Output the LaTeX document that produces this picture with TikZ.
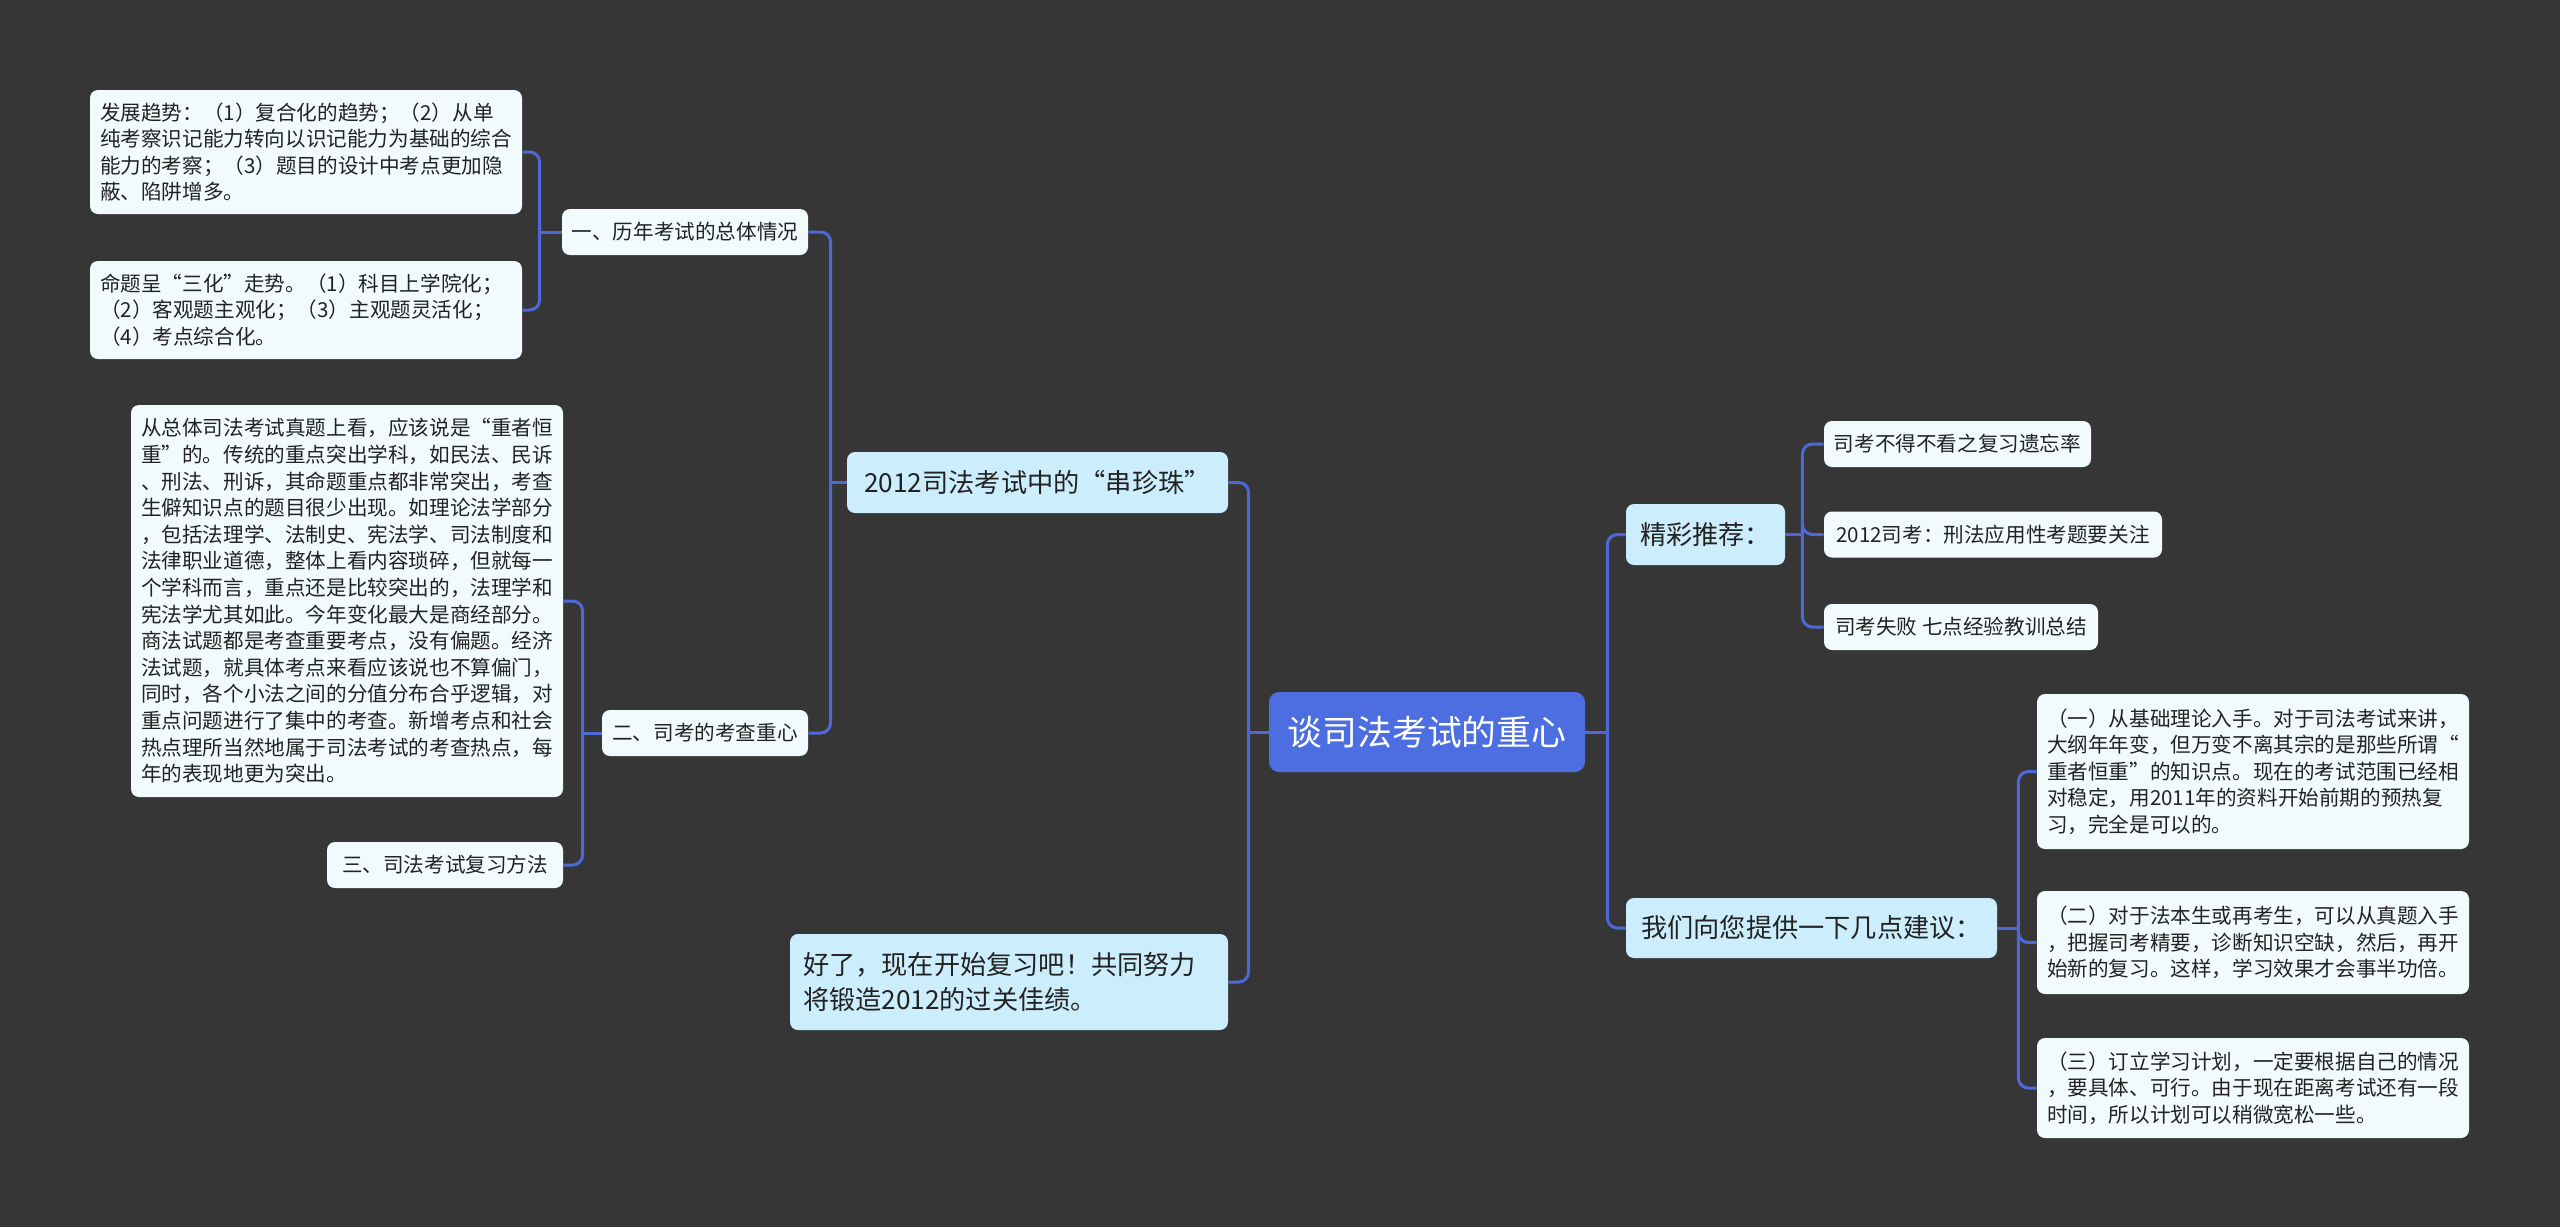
\documentclass[tikz,border=0pt]{standalone}
\usepackage{fontspec}
\setmainfont{Noto Sans CJK SC}
\usepackage{tikz}
\definecolor{mapbg}{RGB}{55,54,55}
\definecolor{rootblue}{RGB}{76,110,224}
\definecolor{topicblue}{RGB}{204,238,252}
\definecolor{leafwhite}{RGB}{241,251,253}
\definecolor{linkblue}{RGB}{78,105,214}
\definecolor{textdark}{RGB}{34,34,34}

\begin{document}
\begin{tikzpicture}[x=0.5pt, y=-0.5pt,
  mainnode/.style={
    rectangle, rounded corners=5pt, fill=rootblue, text=white,
    font=\fontsize{17.4}{21}\selectfont,
    minimum width=158pt, minimum height=40pt
  },
  topicnode/.style={
    rectangle, rounded corners=4pt, fill=topicblue, text=textdark,
    font=\fontsize{13.1}{17.5}\selectfont,
    minimum height=30pt, inner xsep=6.5pt
  },
  subnode/.style={
    rectangle, rounded corners=4pt, fill=leafwhite, text=textdark,
    font=\fontsize{10.3}{13.3}\selectfont,
    minimum height=23pt
  },
  leafnode/.style={subnode, text width=206pt, align=left, inner xsep=5pt},
  link/.style={draw=linkblue, line width=1.5pt, rounded corners=5pt}
]
  % Background
  \fill[mapbg] (0,0) rectangle (2560,1227);

  % Centre
  \node[mainnode] (root) at (1427,732) {谈司法考试的重心};

  % Left main topics
  \node[topicnode, minimum width=190.5pt, minimum height=30.5pt] (pearl) at (1037.5,482.5) {2012司法考试中的“串珍珠”};
  \node[topicnode, text width=206pt, align=left, minimum height=48pt] (cheer) at (1009,982) {好了，现在开始复习吧！共同努力\\将锻造2012的过关佳绩。};

  % Sections
  \node[subnode, minimum width=123pt] (sec1) at (685,232) {一、历年考试的总体情况};
  \node[subnode, minimum width=103pt] (sec2) at (705,733) {二、司考的考查重心};
  \node[subnode, minimum width=118pt] (sec3) at (445,865) {三、司法考试复习方法};

  % Left details
  \node[leafnode, minimum height=62pt] (trend) at (306,152) {发展趋势：（1）复合化的趋势；（2）从单\\纯考察识记能力转向以识记能力为基础的综合\\能力的考察；（3）题目的设计中考点更加隐\\蔽、陷阱增多。};
  \node[leafnode, minimum height=49pt] (three) at (306,310) {命题呈“三化”走势。（1）科目上学院化；\\（2）客观题主观化；（3）主观题灵活化；\\（4）考点综合化。};
  \node[leafnode, minimum height=196pt] (focus) at (347,601) {从总体司法考试真题上看，应该说是“重者恒\\重”的。传统的重点突出学科，如民法、民诉\\、刑法、刑诉，其命题重点都非常突出，考查\\生僻知识点的题目很少出现。如理论法学部分\\，包括法理学、法制史、宪法学、司法制度和\\法律职业道德，整体上看内容琐碎，但就每一\\个学科而言，重点还是比较突出的，法理学和\\宪法学尤其如此。今年变化最大是商经部分。\\商法试题都是考查重要考点，没有偏题。经济\\法试题，就具体考点来看应该说也不算偏门，\\同时，各个小法之间的分值分布合乎逻辑，对\\重点问题进行了集中的考查。新增考点和社会\\热点理所当然地属于司法考试的考查热点，每\\年的表现地更为突出。};

  % Right main topics
  \node[topicnode, minimum width=79.5pt, minimum height=30.5pt] (rec) at (1705.5,534.5) {精彩推荐：};
  \node[topicnode, minimum width=185.5pt] (adv) at (1811.5,928) {我们向您提供一下几点建议：};

  % Recommended reading
  \node[subnode, minimum width=133.5pt] (read1) at (1957.5,444) {司考不得不看之复习遗忘率};
  \node[subnode, minimum width=169pt] (read2) at (1993,534.5) {2012司考：刑法应用性考题要关注};
  \node[subnode, minimum width=137pt] (read3) at (1961,627) {司考失败 七点经验教训总结};

  % Advice
  \node[leafnode, minimum height=77.5pt] (tip1) at (2253,771.5) {（一）从基础理论入手。对于司法考试来讲，\\大纲年年变，但万变不离其宗的是那些所谓“\\重者恒重”的知识点。现在的考试范围已经相\\对稳定，用2011年的资料开始前期的预热复\\习，完全是可以的。};
  \node[leafnode, minimum height=51.5pt] (tip2) at (2253,942.5) {（二）对于法本生或再考生，可以从真题入手\\，把握司考精要，诊断知识空缺，然后，再开\\始新的复习。这样，学习效果才会事半功倍。};
  \node[leafnode, minimum height=50pt] (tip3) at (2253,1088) {（三）订立学习计划，一定要根据自己的情况\\，要具体、可行。由于现在距离考试还有一段\\时间，所以计划可以稍微宽松一些。};

  % Junctions
  \coordinate (rootl) at ([xshift=-10pt]root.west);
  \coordinate (rootr) at ([xshift=11pt]root.east);
  \coordinate (pearlj) at ([xshift=-8pt]pearl.west);
  \coordinate (sec1j) at ([xshift=-11pt]sec1.west);
  \coordinate (sec2j) at ([xshift=-9.5pt]sec2.west);
  \coordinate (recj) at ([xshift=8.5pt]rec.east);
  \coordinate (advj) at ([xshift=10.5pt]adv.east);

  % Links
  \draw[link] (root.west) -- (rootl);
  \draw[link] (rootl) |- (pearl.east);
  \draw[link] (rootl) |- (cheer.east);
  \draw[link] (root.east) -- (rootr);
  \draw[link] (rootr) |- (rec.west);
  \draw[link] (rootr) |- (adv.west);
  \draw[link] (pearl.west) -- (pearlj);
  \draw[link] (pearlj) |- (sec1.east);
  \draw[link] (pearlj) |- (sec2.east);
  \draw[link] (sec1.west) -- (sec1j);
  \draw[link] (sec1j) |- (trend.east);
  \draw[link] (sec1j) |- (three.east);
  \draw[link] (sec2.west) -- (sec2j);
  \draw[link] (sec2j) |- (focus.east);
  \draw[link] (sec2j) |- (sec3.east);
  \draw[link] (rec.east) -- (recj);
  \draw[link] (recj) |- (read1.west);
  \draw[link] (recj) |- (read2.west);
  \draw[link] (recj) |- (read3.west);
  \draw[link] (adv.east) -- (advj);
  \draw[link] (advj) |- (tip1.west);
  \draw[link] (advj) |- (tip2.west);
  \draw[link] (advj) |- (tip3.west);
\end{tikzpicture}
\end{document}
